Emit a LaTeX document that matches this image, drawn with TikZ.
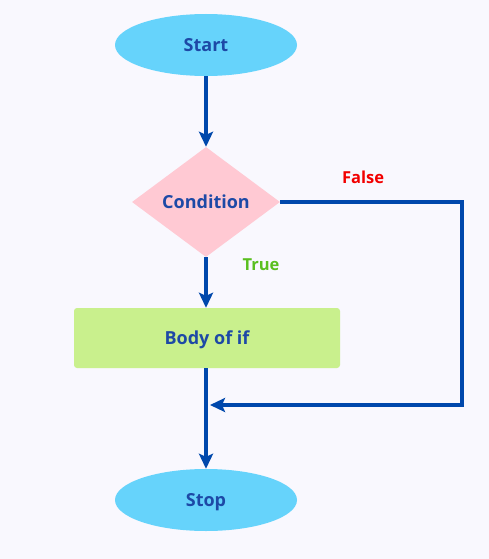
\documentclass[tikz,border=0pt]{standalone}
\usepackage{fontspec}
\setmainfont{Open Sans}
\usepackage{tikz}
\usetikzlibrary{shapes.geometric,arrows.meta}
\definecolor{bgcol}{HTML}{F9F8FE}
\definecolor{linecol}{HTML}{0048AC}
\definecolor{textcol}{HTML}{1D49A6}
\definecolor{termcol}{HTML}{66D3FB}
\definecolor{condcol}{HTML}{FFC9D3}
\definecolor{bodycol}{HTML}{C9F08D}
\definecolor{falsecol}{HTML}{F20000}
\definecolor{truecol}{HTML}{5ABF1F}
\begin{document}
\begin{tikzpicture}[x=1pt,y=-1pt]
				\tikzstyle{terminal}=[ellipse,fill=termcol,minimum width=182pt,minimum height=62pt,text=textcol,text height=13pt,text depth=0pt,font=\fontsize{18}{21}\selectfont\bfseries]
				\tikzstyle{decision}=[diamond,fill=condcol,minimum width=148pt,minimum height=110pt,inner sep=0pt,text=textcol,font=\fontsize{18}{21}\selectfont\bfseries]
				\tikzstyle{process}=[rectangle,rounded corners=3pt,fill=bodycol,minimum width=266pt,minimum height=60pt,text=textcol,text height=13pt,text depth=0pt,font=\fontsize{18}{21}\selectfont\bfseries]
				\tikzstyle{flow}=[draw=linecol,line width=3.8pt,-{Stealth[length=15pt,width=14pt,inset=3pt]}]
				\tikzstyle{lbl}=[font=\fontsize{16.5}{19}\selectfont\bfseries]
				\fill[bgcol] (0,0) rectangle (489,559);
				\useasboundingbox (0,0) rectangle (489,559);
				\node[terminal](start) at (206,45) {Start};
				\node[decision](cond) at (206,202) {Condition};
				\node[process](body) at (207,338) {Body of if};
				\node[terminal](stop) at (206,500) {Stop};
				\coordinate (corner) at (462,202);
				\coordinate (join) at (206,405);
				\node[lbl,text=falsecol](false) at (363,177) {False};
				\node[lbl,text=truecol](true) at (261,265) {True};
				\draw[flow] (start) to (cond);
				\draw[flow] (cond) to (cond |- body.north);
				\draw[flow] (body.south -| stop) to (stop);
				\draw[flow,shorten >=4pt] (cond.east) -- (corner) |- (join);
			\end{tikzpicture}
\end{document}
